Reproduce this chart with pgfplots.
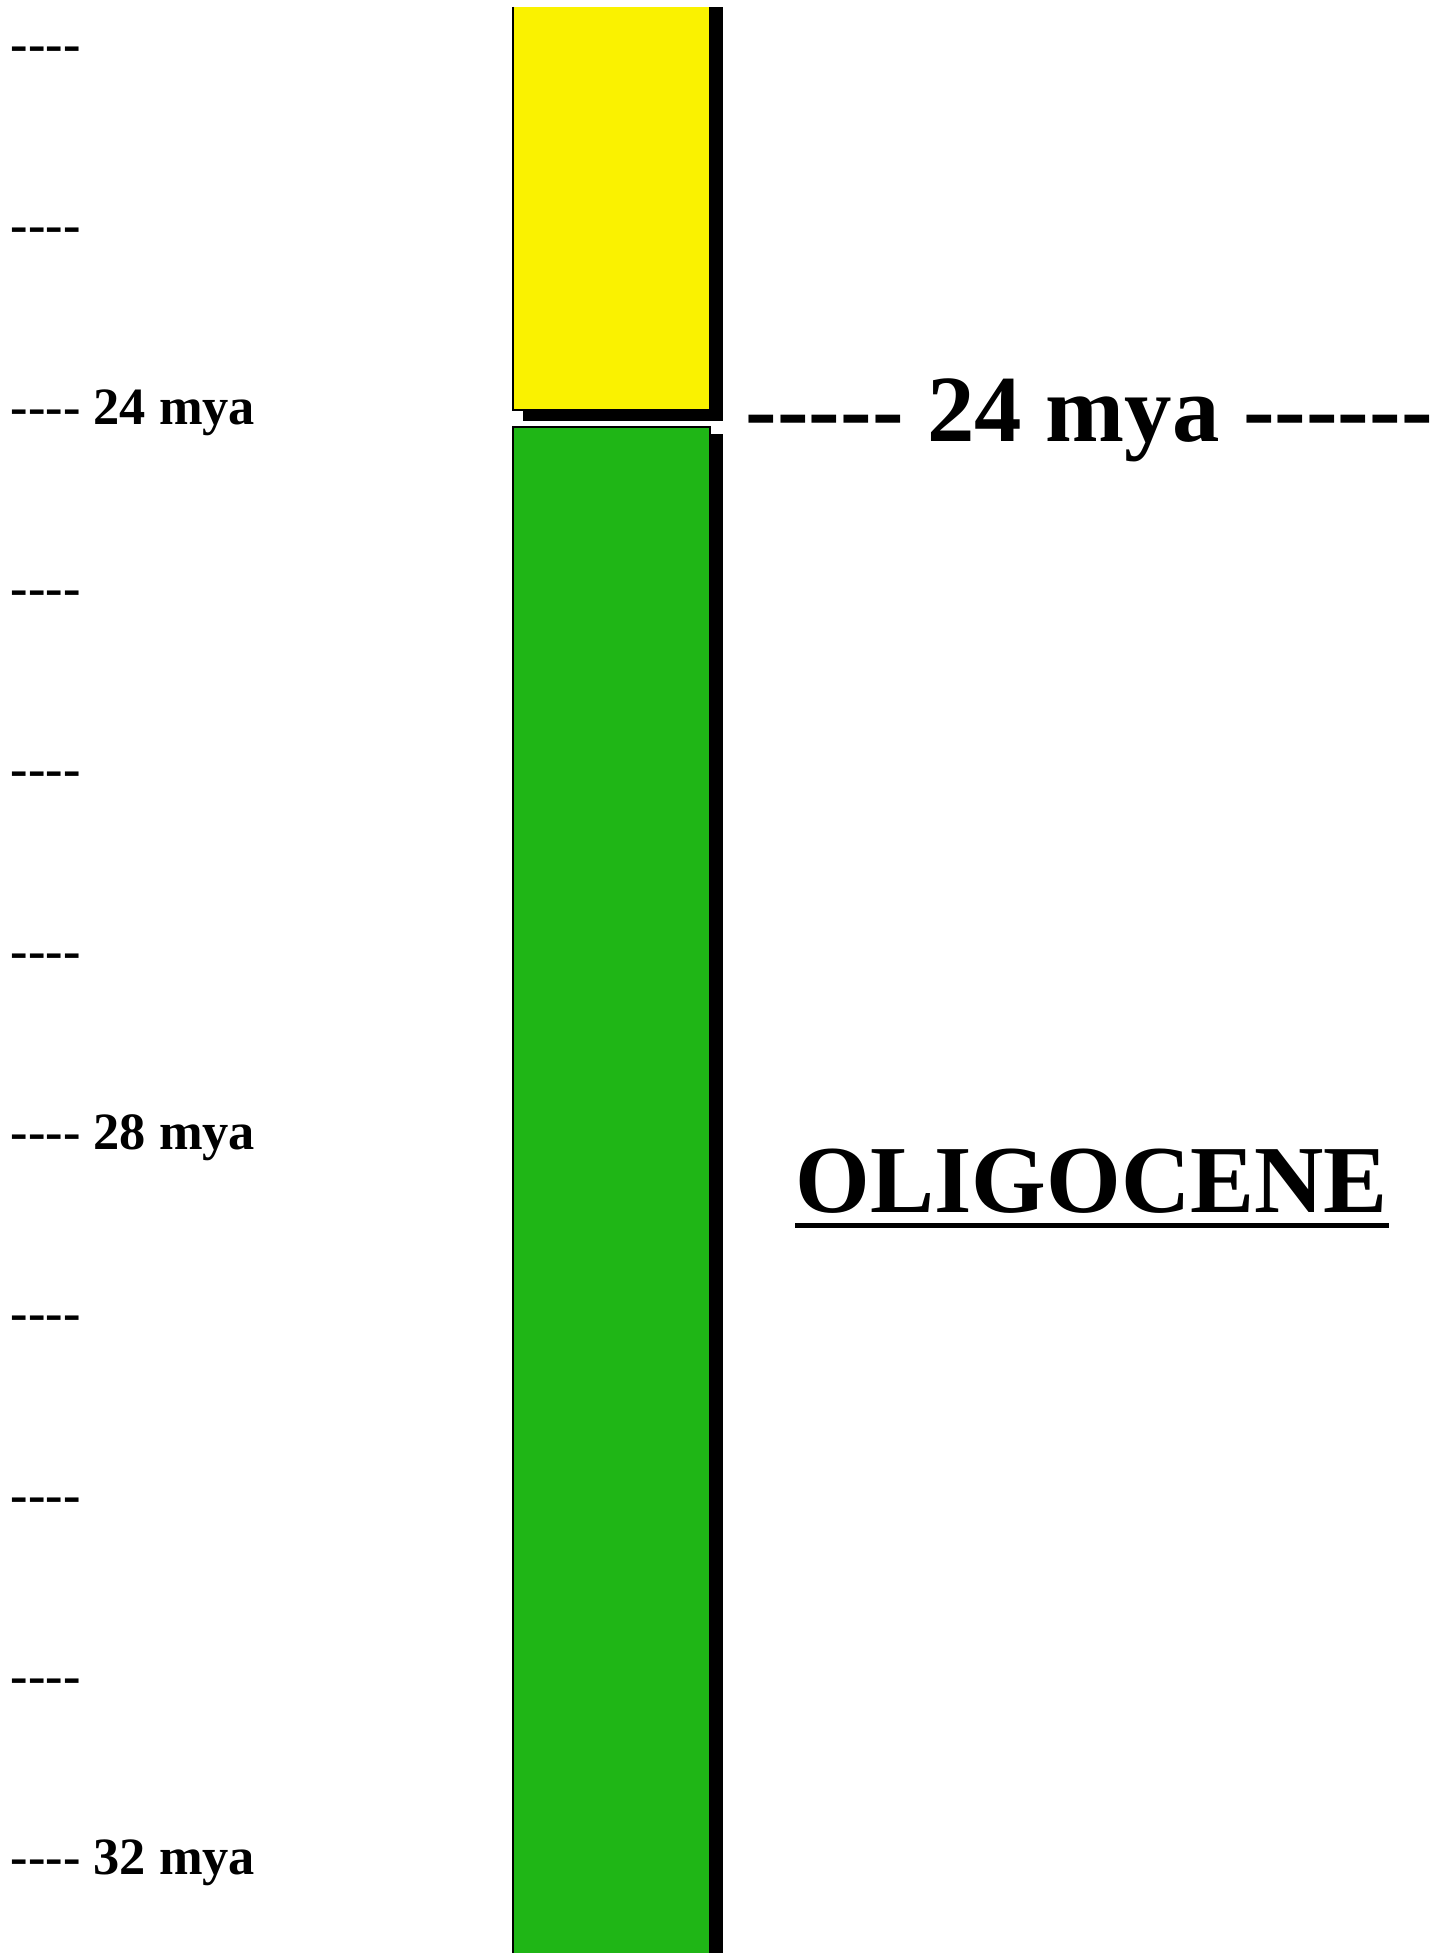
\documentclass[border=0pt]{standalone}
\usepackage{fontspec}
\setmainfont{Liberation Serif}[Ligatures=TeXOff]
\usepackage{pgfplots}
\pgfplotsset{compat=1.18}
\definecolor{epyellow}{RGB}{250,242,0}
\definecolor{olgreen}{RGB}{31,182,22}
\begin{document}
\begin{tikzpicture}
\begin{axis}[
  scale only axis, width=362.75bp, height=488.25bp,
  xmin=0, xmax=1451, ymin=21.735, ymax=32.507, y dir=reverse,
  hide axis, clip=true]
% shadows
\addplot[fill=black, draw=none] coordinates {(523,21.773) (723,21.773) (723,24.055) (523,24.055)} -- cycle;
\addplot[fill=black, draw=none] coordinates {(523,24.128) (723,24.128) (723,33) (523,33)} -- cycle;
% Miocene (yellow) and Oligocene (green)
\addplot[fill=epyellow, draw=none] coordinates {(513,21.773) (710,21.773) (710,23.998) (513,23.998)} -- cycle;
\addplot[draw=black, line width=0.5bp] coordinates {(513,21.773) (513,23.998) (710,23.998) (710,21.773)};
\addplot[fill=olgreen, draw=black, line width=0.5bp] coordinates {(513,24.088) (710,24.088) (710,33) (513,33)} -- cycle;
% left time scale
\begin{scope}[every node/.style={anchor=base west, inner sep=0pt, font=\fontsize{13.1bp}{15bp}\selectfont\bfseries}]
\node at (axis cs:10,22.075) {----};
\node at (axis cs:10,23.075) {----};
\node at (axis cs:10,24.075) {---- 24 mya};
\node at (axis cs:10,25.075) {----};
\node at (axis cs:10,26.075) {----};
\node at (axis cs:10,27.075) {----};
\node at (axis cs:10,28.075) {---- 28 mya};
\node at (axis cs:10,29.075) {----};
\node at (axis cs:10,30.075) {----};
\node at (axis cs:10,31.075) {----};
\node at (axis cs:10,32.075) {---- 32 mya};
\end{scope}
\node[anchor=base west, inner sep=0pt, font=\fontsize{23.7bp}{28bp}\selectfont\bfseries] at (axis cs:745,24.17) {----- 24 mya ------};
\node[anchor=base west, inner sep=0pt, font=\fontsize{24bp}{28bp}\selectfont\bfseries] (olig) at (axis cs:795,28.425) {OLIGOCENE};
\end{axis}
\draw[line width=1.25bp] ([yshift=-3.2bp]olig.base west) -- ([yshift=-3.2bp]olig.base east);
\pgfresetboundingbox
\useasboundingbox (current axis.south west) rectangle (current axis.north east);
\end{tikzpicture}
\end{document}
